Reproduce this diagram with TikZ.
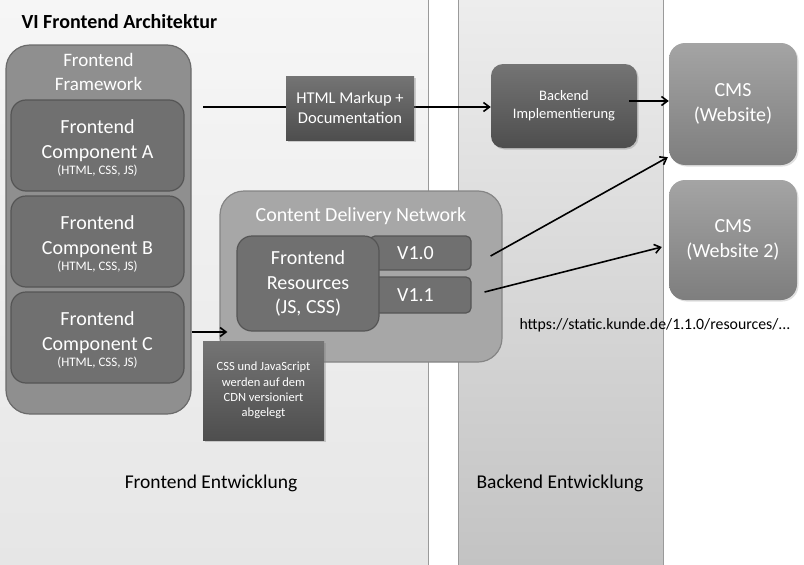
\documentclass[tikz,border=0pt]{standalone}
\usepackage{fontspec}
\setmainfont{Carlito}
\usetikzlibrary{positioning,arrows.meta,shadows}
\definecolor{frontbgtop}{HTML}{F6F6F6}
\definecolor{frontbgbot}{HTML}{E6E6E6}
\definecolor{backbgtop}{HTML}{EDEDED}
\definecolor{backbgbot}{HTML}{C3C3C3}
\definecolor{laneline}{HTML}{9A9A9A}
\definecolor{framegray}{HTML}{8F8F8F}
\definecolor{frameedge}{HTML}{6B6B6B}
\definecolor{compgray}{HTML}{707070}
\definecolor{compedge}{HTML}{555555}
\definecolor{cdngray}{HTML}{A7A7A7}
\definecolor{cdnedge}{HTML}{858585}
\definecolor{darktop}{HTML}{747474}
\definecolor{darkbot}{HTML}{4E4E4E}
\definecolor{cmstop}{HTML}{A4A4A4}
\definecolor{cmsbot}{HTML}{7E7E7E}

\newcommand{\fsz}[1]{\fontsize{#1}{1.22\dimexpr#1pt\relax}\selectfont}

\begin{document}
\begin{tikzpicture}[x=1pt,y=-1pt,
  lane/.style={draw=laneline, line width=0.8pt},
  framebox/.style={draw=frameedge, fill=framegray, line width=1.2pt, rounded corners=24pt},
  compbox/.style={draw=compedge, fill=compgray, line width=1.2pt, rounded corners=15pt,
    text=white, align=center, minimum width=173pt, minimum height=91pt, inner sep=0pt, font=\fsz{20}},
  darkbox/.style={top color=darktop, bottom color=darkbot, draw=none, text=white, align=center,
    inner sep=0pt, drop shadow={opacity=0.35, shadow xshift=1.5pt, shadow yshift=-1.5pt}},
  cmsbox/.style={top color=cmstop, bottom color=cmsbot, draw=none, rounded corners=16pt,
    text=white, align=center, minimum width=128pt, inner sep=0pt, font=\fsz{20},
    drop shadow={opacity=0.25, shadow xshift=1.5pt, shadow yshift=-1.5pt}},
  verbox/.style={draw=compedge, fill=compgray, line width=1.2pt, rounded corners=5pt,
    text=white, minimum width=101pt, inner sep=0pt, font=\fsz{20}},
  flow/.style={line width=1.6pt, -{Straight Barb[length=6pt,width=9pt]}}]
\useasboundingbox (0,0) rectangle (804,565);

% lanes
\shade[top color=frontbgtop, bottom color=frontbgbot] (0,0) rectangle (428,565);
\draw[lane] (428,0) -- (428,565);
\shade[top color=backbgtop, bottom color=backbgbot] (458,0) rectangle (663,565);
\draw[lane] (458,0) -- (458,565);
\draw[lane] (663,0) -- (663,565);

\node[anchor=west, font=\fsz{20}\bfseries] (title) at (18,22) {VI Frontend Architektur};

% frontend framework
\node[framebox, minimum width=185pt, minimum height=369pt] (frame) at (98.5,229.5) {};
\node[text=white, align=center, font=\fsz{19}] (frametitle) at (98.5,72) {Frontend\\Framework};
\node[compbox] (compA) at (97.5,145.5) {\rule{0pt}{19pt}Frontend\\Component A\\[-8pt]{\fsz{13}(HTML, CSS, JS)}};
\node[compbox] (compB) at (97.5,241.5) {\rule{0pt}{19pt}Frontend\\Component B\\[-8pt]{\fsz{13}(HTML, CSS, JS)}};
\node[compbox] (compC) at (97.5,337.5) {\rule{0pt}{19pt}Frontend\\Component C\\[-8pt]{\fsz{13}(HTML, CSS, JS)}};

% backend + cms
\node[darkbox, rounded corners=12pt, minimum width=146pt, minimum height=84pt, font=\fsz{14.5}] (backend) at (564,106) {Backend\\Implementierung};
\node[cmsbox, minimum height=122pt] (cms1) at (733,104) {CMS\\(Website)};
\node[cmsbox, minimum height=120pt] (cms2) at (733,240) {CMS\\(Website 2)};

\coordinate (fwout) at (203,107);
\draw[flow] (fwout) -- (fwout -| backend.west);
\node[darkbox, minimum width=128pt, minimum height=64pt, font=\fsz{16.5}] (markup) at (350,108) {HTML Markup +\\Documentation};
\draw[flow] ([xshift=-8pt,yshift=5pt]backend.east) -- ([yshift=5pt]backend.east -| cms1.west);

% content delivery network
\node[draw=cdnedge, fill=cdngray, line width=1.2pt, rounded corners=24pt, minimum width=282pt, minimum height=171pt] (cdn) at (361,276.5) {};
\node[text=white, font=\fsz{20}] (cdntitle) at (361,216) {Content Delivery Network};
\node[verbox, minimum height=34pt, text depth=0pt] (v10) at (420.5,253) {\hspace*{-10pt}V1.0};
\node[verbox, minimum height=36pt] (v11) at (420.5,295) {\hspace*{-10pt}V1.1};
\node[draw=compedge, fill=compgray, line width=1.2pt, rounded corners=15pt, minimum width=142pt, minimum height=95pt,
  text=white, align=center, inner sep=0pt, font=\fsz{20}] (res) at (308,283.5) {Frontend\\Resources\\(JS, CSS)};

\node[darkbox, minimum width=121pt, minimum height=99pt, font=\fsz{12.5}] (cssnote) at (263.5,390.5) {CSS und JavaScript\\werden auf dem\\CDN versioniert\\abgelegt};

\draw[flow] (frame.east |- 0,332) -- ([xshift=8pt]cdn.west |- 0,332);
\draw[flow] ([xshift=19pt,yshift=-3pt]v10.east) -- ([xshift=-1pt,yshift=8pt]cms1.south west);
\draw[flow] ([xshift=13pt,yshift=3pt]v11.east) -- ([xshift=-7pt,yshift=-7pt]cms2.west);

\node[font=\fsz{15.8}] (url) at (655,325) {https://static.kunde.de/1.1.0/resources/...};
\node[font=\fsz{19.5}] (frontdev) at (211,483) {Frontend Entwicklung};
\node[font=\fsz{19.5}] (backdev) at (560,483) {Backend Entwicklung};
\end{tikzpicture}
\end{document}
